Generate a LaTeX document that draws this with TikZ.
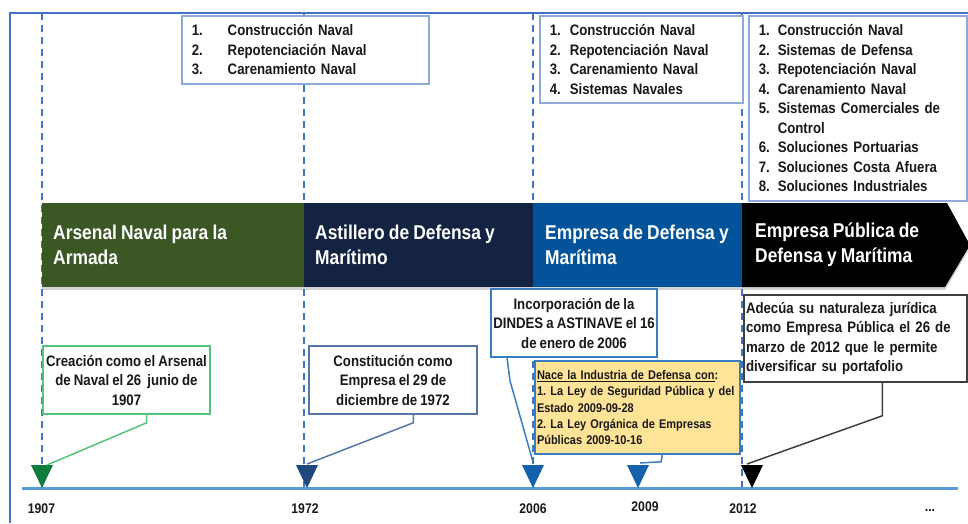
\documentclass[tikz,border=0pt]{standalone}
\usepackage{fontspec}
\setmainfont{Liberation Sans}[FakeStretch=0.87, WordSpace=0.85]
\usetikzlibrary{calc,shadows}
\frenchspacing

\definecolor{frameblue}{HTML}{4472C4}
\definecolor{boxblue}{HTML}{8EAADB}
\definecolor{armgreen}{HTML}{3B5724}
\definecolor{astnavy}{HTML}{132341}
\definecolor{empblue}{HTML}{03539B}
\definecolor{axisblue}{HTML}{5B9BD5}
\definecolor{mkgreen}{HTML}{0E7C3B}
\definecolor{mknavy}{HTML}{1F497D}
\definecolor{mkblue}{HTML}{1562AC}
\definecolor{cgreen}{HTML}{52C47E}
\definecolor{cnavy}{HTML}{5678A8}
\definecolor{cblue}{HTML}{3A7DC0}
\definecolor{cdark}{HTML}{404040}
\definecolor{lawyellow}{HTML}{FFE397}

\newcommand{\nbox}[2]{\makebox[#1][l]{#2}}

\begin{document}
\begin{tikzpicture}[x=1pt, y=-1pt,
    every node/.style={font=\bfseries, inner sep=0pt, text=black!90},
    listbox/.style={draw=boxblue, line width=1.5pt, fill=white, anchor=north west, align=left,
        inner xsep=10pt, font=\fontsize{15.2}{19.5}\selectfont\bfseries},
    phase/.style={anchor=north west, minimum height=84pt,
        drop shadow={shadow xshift=0pt, shadow yshift=-3pt, opacity=0.35}},
    phasetext/.style={anchor=west, align=left, text=white, font=\fontsize{20}{25}\selectfont\bfseries},
    callout/.style={draw, line width=1.5pt, fill=white, align=center, font=\fontsize{15.2}{19.5}\selectfont\bfseries},
    pointer/.style={line width=1.5pt},
    year/.style={font=\fontsize{14}{15}\selectfont\bfseries}]
        \useasboundingbox (0,0) rectangle (968,523);

        % Rahmen und Hilfslinien
        \draw[frameblue, line width=2pt] (10,523) -- (10,13) -- (968,13);
        \foreach \x in {42,304,533,742}
            \draw[frameblue, line width=1.5pt, dash pattern=on 7pt off 5pt] (\x,13) -- (\x,488);

        % Servicios
        \node[listbox, text width=227pt, minimum height=68pt] (s1972) at (181,15)
            {\nbox{36pt}{1.}Construcción Naval\\\nbox{36pt}{2.}Repotenciación Naval\\\nbox{36pt}{3.}Carenamiento Naval};
        \node[listbox, text width=183pt, minimum height=87pt] (s2006) at (539,15)
            {\nbox{20pt}{1.}Construcción Naval\\\nbox{20pt}{2.}Repotenciación Naval\\\nbox{20pt}{3.}Carenamiento Naval\\\nbox{20pt}{4.}Sistemas Navales};
        \node[listbox, text width=198pt, minimum height=185pt] (s2012) at (748,15)
            {\nbox{19pt}{1.}Construcción Naval\\\nbox{19pt}{2.}Sistemas de Defensa\\\nbox{19pt}{3.}Repotenciación Naval\\
             \nbox{19pt}{4.}Carenamiento Naval\\\nbox{19pt}{5.}Sistemas Comerciales de\\\hspace*{19pt}Control\\
             \nbox{19pt}{6.}Soluciones Portuarias\\\nbox{19pt}{7.}Soluciones Costa Afuera\\\nbox{19pt}{8.}Soluciones Industriales};

        % Etapas
        \node[phase, fill=armgreen, minimum width=262pt] (b1907) at (42,203) {};
        \node[phase, fill=astnavy, minimum width=229pt] (b1972) at (304,203) {};
        \node[phase, fill=empblue, minimum width=209pt] (b2006) at (533,203) {};
        \fill[black, drop shadow={shadow xshift=0pt, shadow yshift=-3pt, opacity=0.35}]
            (742,203) -- (947,203) -- (970,245) -- (945,287) -- (742,287) -- cycle;
        \node[phasetext] (n1907) at (53,245) {Arsenal Naval para la\\Armada};
        \node[phasetext] (n1972) at (315,245) {Astillero de Defensa y\\Marítimo};
        \node[phasetext] (n2006) at (545,245) {Empresa de Defensa y\\Marítima};
        \node[phasetext] (n2012) at (755,245) {Empresa Pública de\\Defensa y Marítima};

        % Linea de tiempo
        \draw[axisblue, line width=3pt] (22,488) -- (958,488);
        \foreach \x/\c in {42/mkgreen, 307/mknavy, 533/mkblue, 638/mkblue, 752/black}
            \fill[\c] (\x-11,465) -- (\x+11,465) -- (\x,488) -- cycle;
        \coordinate (t1907) at (47,465);
        \coordinate (t1972) at (307,464);
        \coordinate (t2006) at (533,462);
        \coordinate (t2009) at (640,463);
        \coordinate (t2012) at (747,464);

        % Hitos
        \node[callout, draw=cgreen, minimum width=167pt, minimum height=68pt] (c1907) at (126.5,380)
            {Creación como el Arsenal\\de Naval el 26\ \ junio de\\1907};
        \node[callout, draw=cnavy, minimum width=168pt, minimum height=68pt] (c1972) at (393,380)
            {Constitución como\\Empresa el 29 de\\diciembre de 1972};
        \node[callout, draw=cblue, minimum width=166pt, minimum height=68pt] (c2006) at (574,323)
            {Incorporación de la\\DINDES a ASTINAVE el 16\\de enero de 2006};
        \node[callout, draw=cblue, fill=lawyellow, align=left, text width=201pt, inner xsep=2pt, minimum height=93pt,
            font=\fontsize{12.6}{16.3}\selectfont\bfseries] (c2009) at (637.5,407.5)
            {\underline{Nace la Industria de Defensa con}:\\1. La Ley de Seguridad Pública y del\\Estado 2009-09-28\\
             2. La Ley Orgánica de Empresas\\Públicas 2009-10-16};
        \node[callout, draw=cdark, align=left, text width=219pt, inner xsep=2pt, minimum height=87pt] (c2012) at (855.5,338.5)
            {Adecúa su naturaleza jurídica\\como Empresa Pública el 26 de\\marzo de 2012 que le permite\\diversificar su portafolio};

        \draw[pointer, cgreen] ($(c1907.south west)!0.62!(c1907.south east)$) -- ++(0,8) -- (t1907);
        \draw[pointer, cnavy] ($(c1972.south west)!0.62!(c1972.south east)$) -- ++(0,8) -- (t1972);
        \draw[pointer, cblue] ($(c2006.south west)!0.1!(c2006.south east)$) -- ++(3,23) -- (t2006);
        \draw[pointer, cblue] ($(c2009.south west)!0.62!(c2009.south east)$) -- ++(-1,7) -- (t2009);
        \draw[pointer, cdark] ($(c2012.south west)!0.62!(c2012.south east)$) -- ++(0,33) -- (t2012);

        % Anios
        \node[year] (y1907) at (41.5,509) {1907};
        \node[year] (y1972) at (305,509) {1972};
        \node[year] (y2006) at (533,509) {2006};
        \node[year] (y2009) at (645,507) {2009};
        \node[year] (y2012) at (743,509) {2012};
        \node[year] (ymore) at (930,510) {...};

    \end{tikzpicture}
\end{document}
